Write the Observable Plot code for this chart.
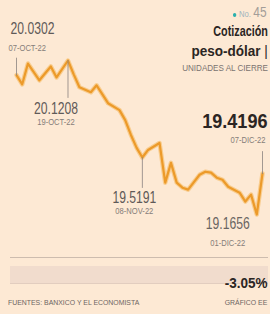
<!DOCTYPE html>
<html>
<head>
<meta charset="utf-8">
<script src="https://cdn.jsdelivr.net/npm/d3@7"></script>
<script src="https://cdn.jsdelivr.net/npm/@observablehq/plot@0.6"></script>
<style>
  html, body { margin: 0; padding: 0; background: #fde9d4; }
  #wrap { position: relative; width: 270px; height: 314px; overflow: hidden; background: #fde9d4;
    font-family: "Liberation Sans", Arial, sans-serif; }
  #wrap svg { position: absolute; left: 0; top: 0; }
  .t { position: absolute; white-space: nowrap; line-height: 1; }
  .r { transform-origin: right center; }
  .l { transform-origin: left center; }
</style>
</head>
<body>
<div id="wrap">
  <div class="t r" style="right:3px;top:5px;display:flex;align-items:baseline;gap:3px;transform:scaleX(0.85);">
    <span style="display:inline-block;width:4px;height:4px;border-radius:2px;background:#2bb0ad;"></span>
    <span style="font-size:9px;color:#9fb4bd;">No.</span>
    <span style="font-size:14px;color:#a39d98;">45</span>
  </div>
  <div class="t r" style="right:2px;top:23px;font-size:15px;font-weight:bold;color:#2b2523;transform:scaleX(0.72);">Cotización</div>
  <div class="t r" style="right:2px;top:43px;font-size:15px;font-weight:bold;color:#2b2523;transform:scaleX(0.9);">peso-dólar <span style="font-weight:normal;">|</span></div>
  <div class="t r" style="right:2px;top:63px;font-size:9.5px;color:#7a7370;transform:scaleX(0.85);">UNIDADES AL CIERRE</div>

  <div style="position:absolute;left:10px;right:2px;top:257px;height:1px;background:#cdbcae;"></div>
  <div style="position:absolute;left:10px;right:2px;top:266px;height:17px;background:#f1dccd;border-bottom:1px solid #e2cdbf;"></div>
  <div class="t r" style="right:2px;top:275px;font-size:15px;font-weight:bold;color:#2b2523;transform:scaleX(0.9);">-3.05%</div>

  <div class="t l" style="left:8px;top:299px;font-size:7.5px;color:#6d6562;transform:scaleX(0.92);">FUENTES: BANXICO Y EL ECONOMISTA</div>
  <div class="t r" style="right:3px;top:299px;font-size:7.5px;color:#6d6562;transform:scaleX(0.92);">GRÁFICO EE</div>
</div>
<script>
// Trading-day index (from 07-OCT-22) and closing value
const days = [0,1,2,4,6,7,9,10,11,13,14,16,18,19,20,21,22,23,25,26,27,28,29,30,32,33,34,35,36,37,39,40,41,42,43];
const values = [20.0302,19.973,20.102,19.998,20.084,20.016,20.1208,20.035,19.955,19.924,
                19.967,19.856,19.813,19.751,19.659,19.579,19.5191,19.566,19.609,19.363,
                19.486,19.363,19.332,19.320,19.412,19.431,19.425,19.394,19.381,19.338,
                19.301,19.246,19.289,19.1656,19.4196];
// Annotated points
const labelDays = [0, 9, 22, 42, 43];
const labelTexts = ["20.0302", "20.1208", "19.5191", "19.1656", "19.4196"];
const labelDates = ["07-OCT-22", "19-OCT-22", "08-NOV-22", "01-DIC-22", "07-DIC-22"];

const series = days.map((d, i) => ({day: d, value: values[i]}));
const notes = labelDays.map((d, i) => ({day: d, value: values[days.indexOf(d)], text: labelTexts[i], date: labelDates[i]}));

const FONT = "Liberation Sans, Arial, sans-serif";
const lineShape = { draw(ctx, l) { ctx.moveTo(0, 0); ctx.lineTo(0, -l); } };

// placement of each annotation (pixel offsets)
const place = [
  {vx: -6, vy: -46, va: "start", dx2: -8, dy2: -27, da: "start", tick: 17, rot: 0, size: 16, big: false, fill: "#5f5a58"},
  {vx: -12, vy: 48, va: "middle", dx2: -12, dy2: 61, da: "middle", tick: 37, rot: 180, size: 16, big: false, fill: "#5f5a58"},
  {vx: -8, vy: 40, va: "middle", dx2: -8, dy2: 53, da: "middle", tick: 30, rot: 180, size: 16, big: false, fill: "#5f5a58"},
  {vx: -29, vy: 9, va: "middle", dx2: -29, dy2: 28, da: "middle", tick: 0, rot: 0, size: 16, big: false, fill: "#6a6562"},
  {vx: 5, vy: -52, va: "end", dx2: 3, dy2: -34, da: "end", tick: 22, rot: 0, size: 21, big: true, fill: "#2b2523"}
];

const marks = [
  Plot.line(series, {x: "day", y: "value", stroke: "#f7c170", strokeWidth: 4.5, strokeOpacity: 0.7, strokeLinejoin: "round"}),
  Plot.line(series, {x: "day", y: "value", stroke: "#ec9a2a", strokeWidth: 2.2, strokeLinejoin: "round"})
];
notes.forEach((n, i) => {
  const p = place[i];
  if (p.tick > 0) marks.push(Plot.vector([n], {x: "day", y: "value", length: p.tick, rotate: p.rot, anchor: "start", shape: lineShape, stroke: "#8a8380", strokeWidth: 0.8}));
  marks.push(Plot.text([n], {x: "day", y: "value", text: "text", dx: p.vx, dy: p.vy, textAnchor: p.va, fontSize: p.size,
    fontWeight: p.big ? "bold" : "normal", fill: p.fill, fontFamily: FONT}));
  marks.push(Plot.text([n], {x: "day", y: "value", text: "date", dx: p.dx2, dy: p.dy2, textAnchor: p.da, fontSize: 9.5,
    fill: "#857d79", fontFamily: FONT}));
});

const chart = Plot.plot({
  width: 270, height: 314,
  marginTop: 60, marginBottom: 100, marginLeft: 16, marginRight: 8,
  x: {domain: [0, 43], axis: null},
  y: {domain: [19.1656, 20.1208], axis: null},
  style: {background: "transparent", overflow: "visible"},
  marks
});
// condense the label glyphs horizontally (no narrow font installed)
chart.querySelectorAll("text").forEach(t => {
  const txt = t.textContent;
  const s = txt.includes("-") ? 0.8 : (txt === "19.4196" ? 0.86 : 0.76);
  let tr = t.getAttribute("transform") || "";
  if (!/translate/.test(tr)) {
    const x = +(t.getAttribute("x") || 0), y = +(t.getAttribute("y") || 0);
    t.removeAttribute("x"); t.removeAttribute("y");
    tr = `translate(${x},${y}) ` + tr;
  }
  t.setAttribute("transform", tr + ` scale(${s},1)`);
});
document.getElementById("wrap").prepend(chart);
</script>
</body>
</html>
